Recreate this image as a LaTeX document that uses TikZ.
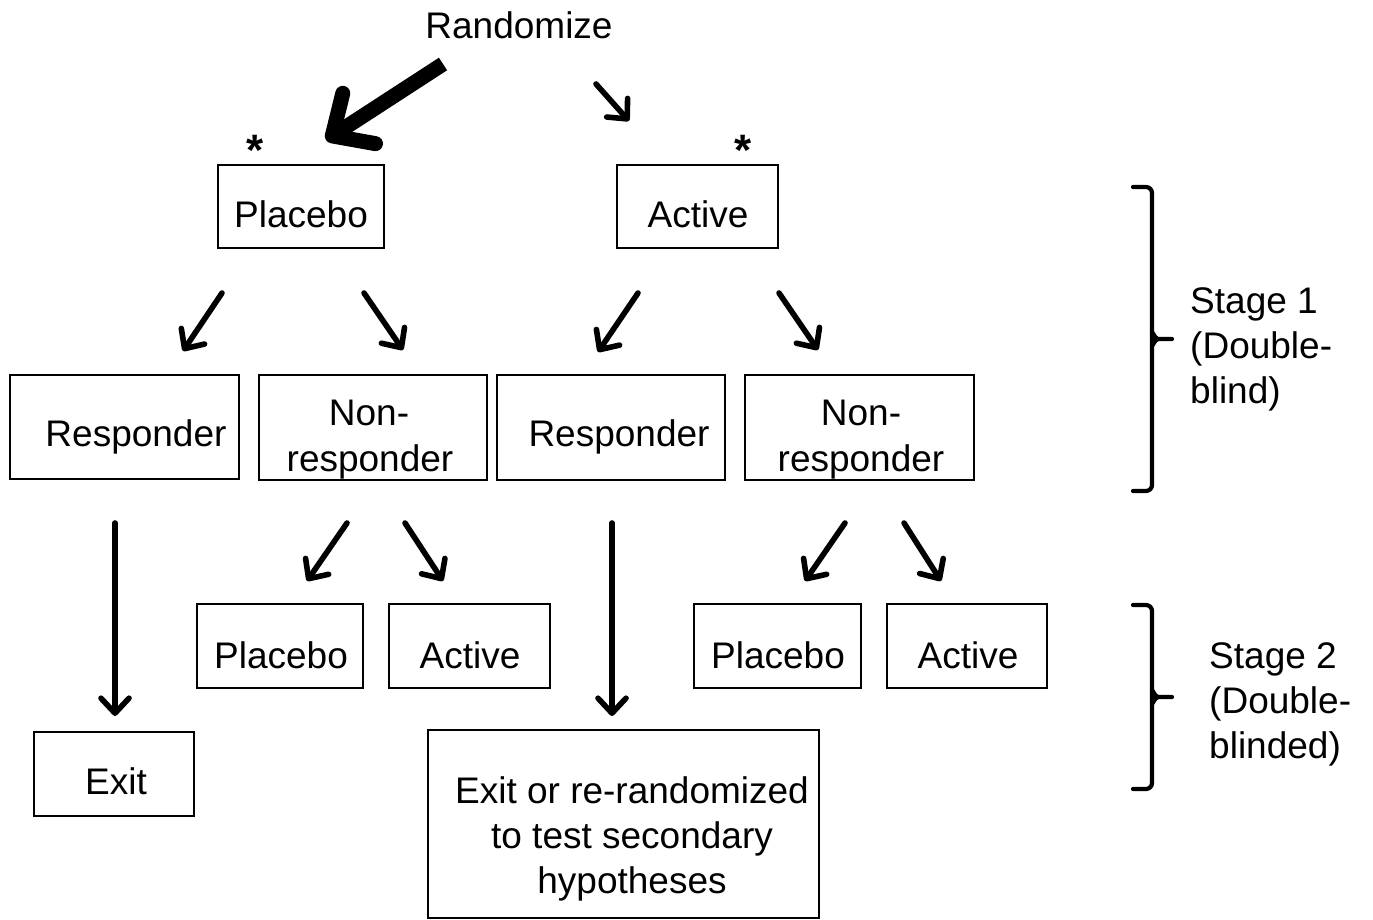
\documentclass[tikz,border=0pt]{standalone}
\usepackage{fontspec}
\setmainfont{Liberation Sans}
\usetikzlibrary{arrows.meta}
\begin{document}
\begin{tikzpicture}[x=1pt,y=-1pt,
  box/.style={draw,line width=2.8pt,inner sep=0pt},
  txt/.style={anchor=base,inner sep=0pt,font=\fontsize{37}{45}\selectfont},
  ast/.style={anchor=base,inner sep=0pt,font=\fontsize{44}{45}\selectfont\bfseries},
  ltxt/.style={anchor=base west,inner sep=0pt,font=\fontsize{37}{45}\selectfont},
  arr/.style={line width=5.6pt,line cap=round,-{Straight Barb[length=15pt,width=28pt,round]}},
  bigarr/.style={line width=15pt,-{Straight Barb[length=32pt,width=60pt,round]}},
  brace/.style={line width=4.2pt,line cap=round,line join=round}]
\useasboundingbox (0,0) rectangle (1373,920);
% boxes
\node[box,minimum width=166pt,minimum height=83pt] (pl1) at (301,206.5) {};
\node[box,minimum width=161pt,minimum height=83pt] (ac1) at (697.5,206.5) {};
\node[box,minimum width=229pt,minimum height=104pt] (re1) at (124.5,427) {};
\node[box,minimum width=228pt,minimum height=105pt] (nr1) at (373,427.5) {};
\node[box,minimum width=228pt,minimum height=105pt] (re2) at (611,427.5) {};
\node[box,minimum width=229pt,minimum height=105pt] (nr2) at (859.5,427.5) {};
\node[box,minimum width=166pt,minimum height=84pt] (pl2) at (280,646) {};
\node[box,minimum width=161pt,minimum height=84pt] (ac2) at (469.5,646) {};
\node[box,minimum width=167pt,minimum height=84pt] (pl3) at (777.5,646) {};
\node[box,minimum width=160pt,minimum height=84pt] (ac3) at (967,646) {};
\node[box,minimum width=160pt,minimum height=84pt] (ex1) at (114,774) {};
\node[box,minimum width=391pt,minimum height=188pt] (ex2) at (623.5,824) {};
% texts
\node[txt] (trand) at (519,39) {Randomize};
\node[txt] at (301,228) {Placebo};
\node[txt] at (698,228) {Active};
\node[txt] at (136,446) {Responder};
\node[txt] at (369,425) {Non-};
\node[txt] at (370,471) {responder};
\node[txt] at (619,446) {Responder};
\node[txt] at (861,425) {Non-};
\node[txt] at (861,471) {responder};
\node[txt] at (281,668) {Placebo};
\node[txt] at (470,668) {Active};
\node[txt] at (778,668) {Placebo};
\node[txt] at (968,668) {Active};
\node[txt] at (116,794) {Exit};
\node[txt] at (632,803) {Exit or re-randomized};
\node[txt] at (632,848) {to test secondary};
\node[txt] at (632,893) {hypotheses};
\node[ast] (ast1) at (255,166) {*};
\node[ast] (ast2) at (743,166) {*};
\node[ltxt] (s1a) at (1190,313) {Stage 1};
\node[ltxt] (s1b) at (1190,358) {(Double-};
\node[ltxt] (s1c) at (1190,403) {blind)};
\node[ltxt] (s2a) at (1209,668) {Stage 2};
\node[ltxt] (s2b) at (1209,713) {(Double-};
\node[ltxt] (s2c) at (1209,758) {blinded)};
% arrow coordinates
\coordinate (a0s) at (443,64); \coordinate (a0e) at (326,140);
\coordinate (a1s) at (596,84); \coordinate (a1e) at (629,121);
\coordinate (b1s) at (222,293); \coordinate (b1e) at (183,351);
\coordinate (b2s) at (364,293); \coordinate (b2e) at (403,350);
\coordinate (b3s) at (638,293); \coordinate (b3e) at (598,352);
\coordinate (b4s) at (779,293); \coordinate (b4e) at (818,350);
\coordinate (c1s) at (347,523); \coordinate (c1e) at (307,581);
\coordinate (c2s) at (405,523); \coordinate (c2e) at (443,581);
\coordinate (c3s) at (845,523); \coordinate (c3e) at (805,581);
\coordinate (c4s) at (904,523); \coordinate (c4e) at (941,581);
\coordinate (v1s) at (115,523); \coordinate (v1e) at (115,716);
\coordinate (v2s) at (612,523); \coordinate (v2e) at (612,716);
\draw[bigarr] (a0s) -- (a0e);
\draw[arr] (a1s) -- (a1e);
\draw[arr] (b1s) -- (b1e);
\draw[arr] (b2s) -- (b2e);
\draw[arr] (b3s) -- (b3e);
\draw[arr] (b4s) -- (b4e);
\draw[arr] (c1s) -- (c1e);
\draw[arr] (c2s) -- (c2e);
\draw[arr] (c3s) -- (c3e);
\draw[arr] (c4s) -- (c4e);
\draw[arr] (v1s) -- (v1e);
\draw[arr] (v2s) -- (v2e);
% braces
\coordinate (br1t) at (1133,187); \coordinate (br1b) at (1133,491); \coordinate (br1m) at (1172,339);
\coordinate (br2t) at (1133,605); \coordinate (br2b) at (1133,789); \coordinate (br2m) at (1172,697);
\draw[brace,rounded corners=6pt] (br1t) -- (1152,187) -- (1152,491) -- (br1b);
\draw[brace] (1152,333) to[out=90,in=180] (1158,339) -- (br1m);
\draw[brace] (1152,345) to[out=-90,in=180] (1158,339);
\draw[brace,rounded corners=6pt] (br2t) -- (1152,605) -- (1152,789) -- (br2b);
\draw[brace] (1152,691) to[out=90,in=180] (1158,697) -- (br2m);
\draw[brace] (1152,703) to[out=-90,in=180] (1158,697);
\end{tikzpicture}
\end{document}
